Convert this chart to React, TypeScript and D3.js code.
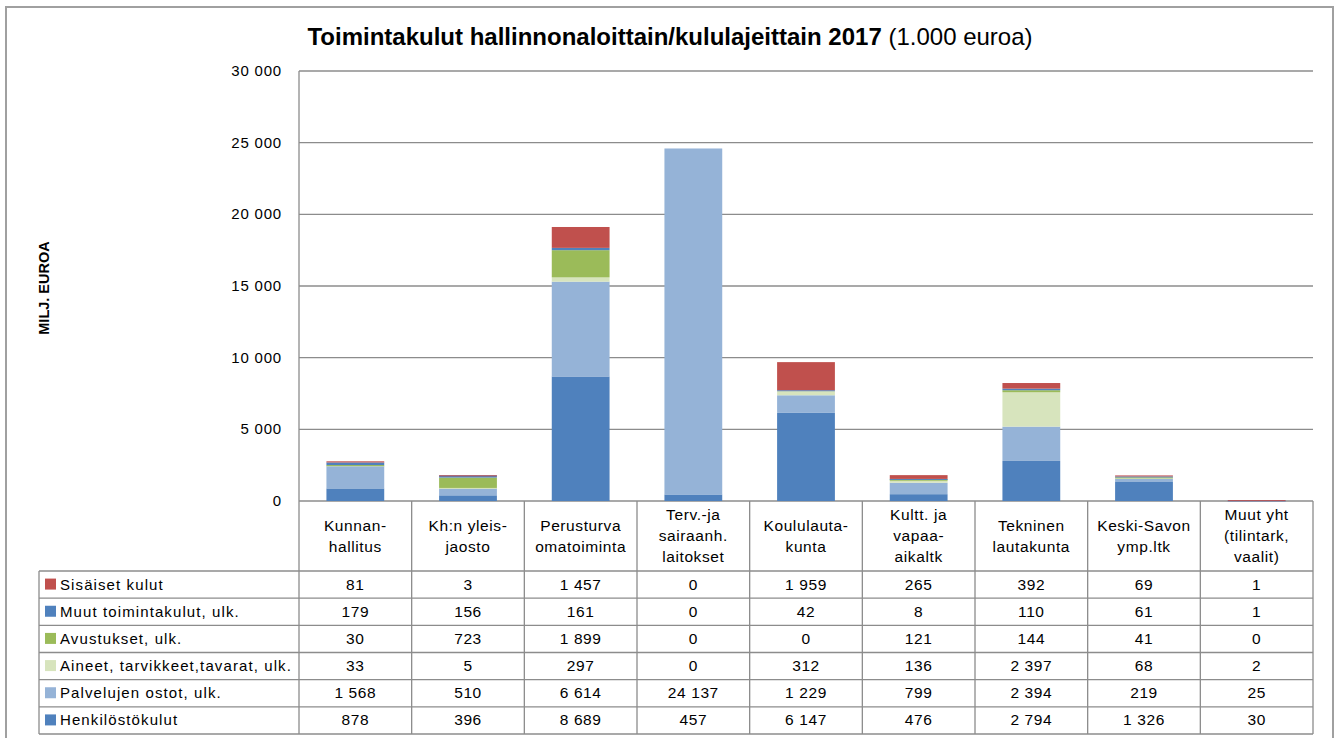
import React from 'react';
import * as d3 from 'd3';

const categories = [
  ['Kunnan-', 'hallitus'],
  ['Kh:n yleis-', 'jaosto'],
  ['Perusturva', 'omatoiminta'],
  ['Terv.-ja', 'sairaanh.', 'laitokset'],
  ['Koululauta-', 'kunta'],
  ['Kultt. ja', 'vapaa-', 'aikaltk'],
  ['Tekninen', 'lautakunta'],
  ['Keski-Savon', 'ymp.ltk'],
  ['Muut yht', '(tilintark,', 'vaalit)'],
];

// series listed bottom to top of the stack
const henkilosto = [878, 396, 8689, 457, 6147, 476, 2794, 1326, 30];
const palvelut = [1568, 510, 6614, 24137, 1229, 799, 2394, 219, 25];
const aineet = [33, 5, 297, 0, 312, 136, 2397, 68, 2];
const avustukset = [30, 723, 1899, 0, 0, 121, 144, 41, 0];
const muut = [179, 156, 161, 0, 42, 8, 110, 61, 1];
const sisaiset = [81, 3, 1457, 0, 1959, 265, 392, 69, 1];

const series = [
  { name: 'Henkilöstökulut', values: henkilosto, color: '#4F81BD' },
  { name: 'Palvelujen ostot, ulk.', values: palvelut, color: '#95B3D7' },
  { name: 'Aineet, tarvikkeet,tavarat, ulk.', values: aineet, color: '#D7E4BD' },
  { name: 'Avustukset, ulk.', values: avustukset, color: '#9BBB59' },
  { name: 'Muut toimintakulut, ulk.', values: muut, color: '#4F81BD' },
  { name: 'Sisäiset kulut', values: sisaiset, color: '#C0504D' },
];

const yTicks = [0, 5000, 10000, 15000, 20000, 25000, 30000];

const font = '"Liberation Sans", Arial, sans-serif';
const fmt = d3.formatLocale({ decimal: ',', thousands: ' ', grouping: [3], currency: ['', '€'] }).format(',d');

export default function App() {
  const left = 299;
  const right = 1313;
  const top = 71;
  const zero = 501;
  const headBottom = 571;
  const tableBottom = 734;
  const tableLeft = 39;
  const rowH = (tableBottom - headBottom) / series.length;

  const keys = categories.map((_, i) => String(i));
  const col = d3.scaleBand().domain(keys).range([left, right]);
  const x = d3.scaleBand().domain(keys).range([left, right]).paddingInner(0.487).paddingOuter(0.2435);
  const y = d3.scaleLinear().domain([0, 30000]).range([zero, top]);

  const rows = categories.map((_, i) => {
    const r: any = { key: String(i) };
    series.forEach((s) => (r[s.name] = s.values[i]));
    return r;
  });
  const stacked = d3.stack().keys(series.map((s) => s.name))(rows);

  // table rows: top row is last series
  const tableSeries = [...series].reverse();
  const grid = '#8C8C8C';

  return (
    <svg width={1336} height={738} style={{ position: 'absolute', left: 0, top: 0 }} fontFamily={font}>
      <rect x={0} y={0} width={1336} height={738} fill="#fff" />
      <rect x={6} y={7} width={1327} height={740} fill="none" stroke="#A0A0A0" strokeWidth={2} />

      <text x={670} y={45} textAnchor="middle" fontSize={24} fill="#000">
        <tspan fontWeight="bold">Toimintakulut hallinnonaloittain/kululajeittain 2017</tspan>
        <tspan> (1.000 euroa)</tspan>
      </text>

      <text transform={`translate(49,288) rotate(-90)`} textAnchor="middle" fontSize={14.5} fontWeight="bold">
        MILJ. EUROA
      </text>

      {yTicks.map((t) => (
        <g key={t}>
          <line x1={left} x2={right} y1={y(t)} y2={y(t)} stroke={grid} strokeWidth={1.3} />
          <text x={282} y={y(t) + 5} textAnchor="end" fontSize={15} letterSpacing={0.8}>
            {fmt(t)}
          </text>
        </g>
      ))}
      <line x1={left} x2={left} y1={top} y2={zero} stroke={grid} strokeWidth={1.3} />

      {stacked.map((layer, si) => (
        <g key={layer.key} fill={series[si].color}>
          {layer.map((d, i) =>
            d[1] - d[0] > 0 ? (
              <rect
                key={i}
                x={x(keys[i])}
                width={x.bandwidth()}
                y={y(d[1])}
                height={Math.max(y(d[0]) - y(d[1]), 1)}
              />
            ) : null
          )}
        </g>
      ))}

      {/* data table */}
      <g stroke={grid} strokeWidth={1.3}>
        {keys.map((k) => (
          <line key={k} x1={col(k)} x2={col(k)} y1={zero} y2={tableBottom} />
        ))}
        <line x1={right} x2={right} y1={zero} y2={tableBottom} />
        <line x1={tableLeft} x2={tableLeft} y1={headBottom} y2={tableBottom} />
        {d3.range(series.length + 1).map((r) => (
          <line key={r} x1={tableLeft} x2={right} y1={headBottom + r * rowH} y2={headBottom + r * rowH} />
        ))}
      </g>

      {categories.map((lines, i) => {
        const cx = col(keys[i])! + col.bandwidth() / 2;
        const lh = 21;
        const mid = (zero + headBottom) / 2;
        const start = mid - ((lines.length - 1) * lh) / 2;
        return (
          <text key={i} x={cx} textAnchor="middle" fontSize={15.5} letterSpacing={0.6}>
            {lines.map((l, j) => (
              <tspan key={j} x={cx} y={start + j * lh + 5}>
                {l}
              </tspan>
            ))}
          </text>
        );
      })}

      {tableSeries.map((s, r) => {
        const cy = headBottom + r * rowH + rowH / 2;
        return (
          <g key={s.name}>
            <rect x={45} y={cy - 6} width={11} height={11} fill={s.color} />
            <text x={60} y={cy + 5} fontSize={15} letterSpacing={1.1}>
              {s.name}
            </text>
            {s.values.map((v, i) => (
              <text
                key={i}
                x={col(keys[i])! + col.bandwidth() / 2}
                y={cy + 5}
                textAnchor="middle"
                fontSize={15.5}
                letterSpacing={0.6}
              >
                {fmt(v)}
              </text>
            ))}
          </g>
        );
      })}
    </svg>
  );
}
